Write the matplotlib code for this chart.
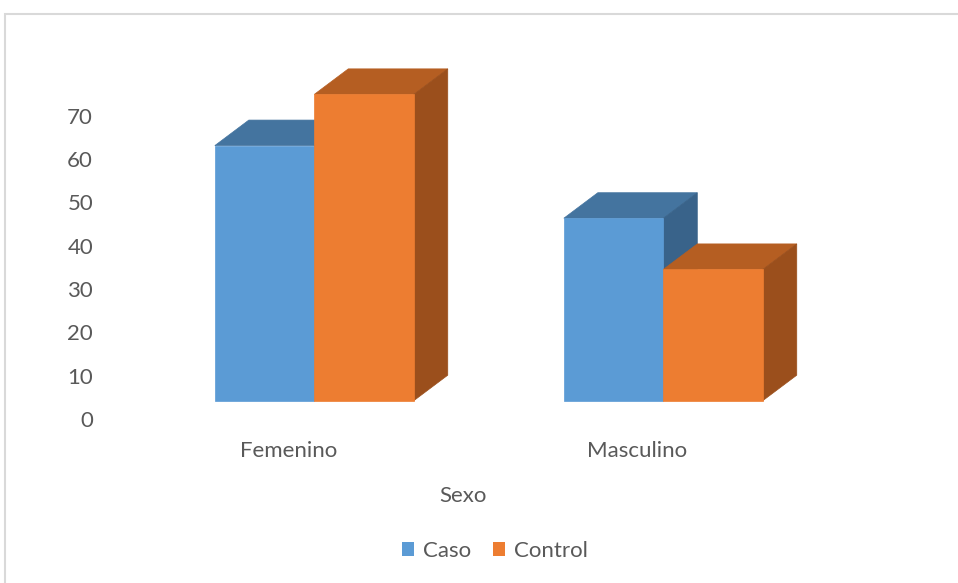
import matplotlib.pyplot as plt
from matplotlib.patches import Polygon, Patch, Rectangle

# Datos (porcentaje por sexo)
categorias = ['Femenino', 'Masculino']
series = ['Caso', 'Control']
caso = [58.3, 41.7]
control = [70.0, 30.0]
valores = [caso, control]
ticks_y = [0, 10, 20, 30, 40, 50, 60, 70]

# Colores: frente, arriba, lado
colores = {
    'Caso': ('#5b9bd5', '#44749f', '#39638a'),
    'Control': ('#ed7d31', '#b55e22', '#9b4f1c'),
}
gris = '#595959'

plt.rcParams['font.family'] = ['Lato', 'DejaVu Sans']

W, H = 958, 583
fig = plt.figure(figsize=(W / 100, H / 100), dpi=100)

# Marco del gráfico
fig.patches.append(Rectangle((5 / W, 0 - 0.05), 1.1, 1 - 14 / H + 0.05,
                             transform=fig.transFigure, fill=False,
                             edgecolor='#d9d9d9', lw=1.5))

L, R, T, B = 100, 900, 40, 437
ax = fig.add_axes([L / W, 1 - B / H, (R - L) / W, (B - T) / H])

# escala: 349 px por categoría, 4.376 px por unidad
ax.set_xlim((L - 314.3) / 349, (R - 314.3) / 349)
ax.set_ylim(-(B - 400.7) / 4.376, (400.7 - T) / 4.376)

ancho = 0.285
dx, dy = 0.0974, 5.83  # profundidad 3D


def barra_3d(x0, v, nombre):
    frente, arriba, lado = colores[nombre]
    ax.add_patch(Polygon([(x0, v), (x0 + ancho, v), (x0 + ancho + dx, v + dy),
                          (x0 + dx, v + dy)], closed=True, facecolor=arriba,
                         edgecolor=arriba, lw=0.5))
    ax.add_patch(Polygon([(x0 + ancho, 0), (x0 + ancho + dx, dy),
                          (x0 + ancho + dx, v + dy), (x0 + ancho, v)],
                         closed=True, facecolor=lado, edgecolor=lado, lw=0.5))
    ax.add_patch(Rectangle((x0, 0), ancho, v, facecolor=frente,
                           edgecolor=frente, lw=0.5))


for i, cat in enumerate(categorias):
    for j, nombre in enumerate(series):
        barra_3d(i - ancho + j * ancho, valores[j][i], nombre)

# eje Y proyectado sobre la pared del fondo (como en Excel 3D)
ax.set_yticks([-4.18 + 0.9895 * t for t in ticks_y])
ax.set_yticklabels([str(t) for t in ticks_y])
ax.set_xticks([i - 0.074 for i in range(len(categorias))])
ax.set_xticklabels(categorias)
ax.tick_params(length=0, labelsize=16, colors=gris)
ax.tick_params(axis='y', pad=5)
ax.tick_params(axis='x', pad=3)
for s in ax.spines.values():
    s.set_visible(False)

ax.set_xlabel('Sexo', fontsize=16, color=gris)
ax.xaxis.set_label_coords((463 - L) / (R - L), -(496 - B) / (B - T))
ax.xaxis.label.set_va('center')

handles = [Patch(facecolor=colores[s][0], label=s) for s in series]
fig.legend(handles=handles, loc='center', ncol=2, frameon=False,
           bbox_to_anchor=(495 / W, 1 - 551 / H), fontsize=16,
           handlelength=0.55, handleheight=0.55, handletextpad=0.4,
           columnspacing=1.0, labelcolor=gris)

fig.savefig('out.png', dpi=100)
